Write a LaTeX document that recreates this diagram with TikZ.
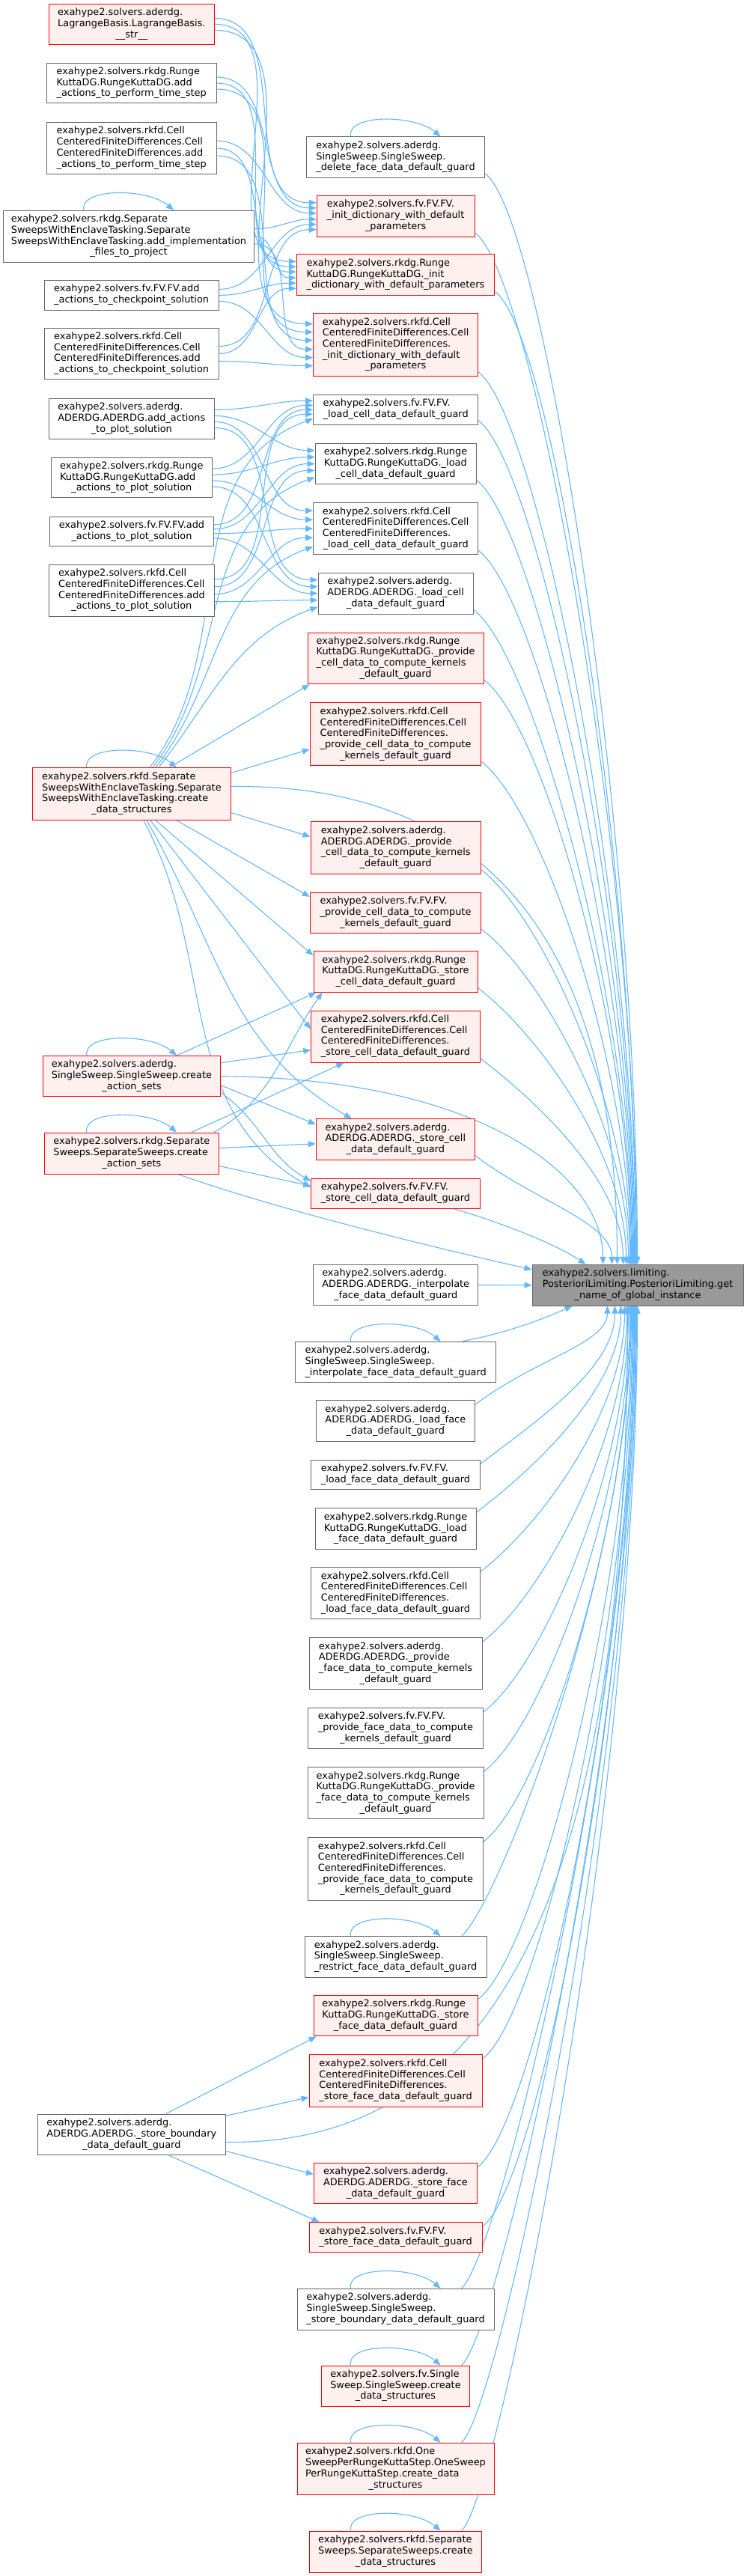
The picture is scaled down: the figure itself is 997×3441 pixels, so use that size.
\documentclass[tikz,border=0pt]{standalone}
\usepackage{fontspec}
\setmainfont{DejaVu Sans}
\usetikzlibrary{arrows.meta,calc}
\definecolor{edgeblue}{HTML}{63B8FF}
\definecolor{rfill}{HTML}{FFF0F0}
\definecolor{gborder}{HTML}{666666}
\definecolor{mfill}{HTML}{999999}
\pgfdeclarelayer{bg}
\pgfsetlayers{bg,main}
\tikzset{
 box/.style={draw, line width=1pt, inner sep=0pt, font=\fontsize{12.9}{14.7}\selectfont},
 gbox/.style={box, draw=gborder, fill=white},
 rbox/.style={box, draw=red, fill=rfill},
 mbox/.style={box, draw=gborder, fill=mfill},
 cg/.style={draw=edgeblue, line width=1.1pt, line join=round, -{Triangle[length=10pt,width=8pt]}},
}
\newcommand\nlabel[2]{\begin{tabular}{@{}l@{}}#1\\\multicolumn{1}{@{}c@{}}{#2}\end{tabular}}
\newcommand\gnode[8]{\node[#2,minimum width={(#5-#3)*1pt},minimum height={(#6-#4)*1pt}] (#1) at ({(#3+#5)/2},{(#4+#6)/2}) {\nlabel{#7}{#8}};}
\newcommand\lmedge[4]{\draw[cg] ([yshift=#2pt]#1.east) to[out=0,in=180] ([yshift=#4pt]#3.west);}
\newcommand\upedge[3]{\draw[cg] ([yshift=6pt]#1.south east) .. controls ($(#1.south east)+(80,55)$) and ($(main.north west)+(#2,-#3)$) .. ([xshift=#2pt]main.north west);}
\newcommand\dnedge[3]{\draw[cg] ([yshift=-6pt]#1.north east) .. controls ($(#1.north east)+(80,-55)$) and ($(main.south west)+(#2,#3)$) .. ([xshift=#2pt]main.south west);}
\newcommand\dnedgeloop[3]{\draw[cg] ([xshift=88pt]#1.north) .. controls ($(#1.north)+(140,-45)$) and ($(main.south west)+(#2,#3)$) .. ([xshift=#2pt]main.south west);}
\newcommand\sloop[1]{\draw[cg] ([xshift=-60pt]#1.north) .. controls ($(#1.north)+(-66,-30)$) and ($(#1.north)+(25,-30)$) .. ([xshift=60pt]#1.north);}
\begin{document}
\begin{tikzpicture}[x=1pt,y=-1pt]
\path[use as bounding box] (0,0) rectangle (997,3441);
% left column
\gnode{L1}{rbox}{65.7}{5.7}{286}{59.1}{exahype2.solvers.aderdg.\\LagrangeBasis.LagrangeBasis.}{\_\_str\_\_}
\gnode{L2}{gbox}{62.3}{84.4}{289}{137.8}{exahype2.solvers.rkdg.Runge\\KuttaDG.RungeKuttaDG.add}{\_actions\_to\_perform\_time\_step}
\gnode{L3}{gbox}{62.3}{163.6}{289}{232.5}{exahype2.solvers.rkfd.Cell\\CenteredFiniteDifferences.Cell\\CenteredFiniteDifferences.add}{\_actions\_to\_perform\_time\_step}
\gnode{L4}{gbox}{4.7}{281.3}{339.3}{350.2}{exahype2.solvers.rkdg.Separate\\SweepsWithEnclaveTasking.Separate\\SweepsWithEnclaveTasking.add\_implementation}{\_files\_to\_project}
\gnode{L5}{gbox}{59}{374.3}{292.3}{414.5}{exahype2.solvers.fv.FV.FV.add}{\_actions\_to\_checkpoint\_solution}
\gnode{L6}{gbox}{59}{438}{292.3}{506.9}{exahype2.solvers.rkfd.Cell\\CenteredFiniteDifferences.Cell\\CenteredFiniteDifferences.add}{\_actions\_to\_checkpoint\_solution}
\gnode{L7}{gbox}{65.7}{532.7}{286}{586.1}{exahype2.solvers.aderdg.\\ADERDG.ADERDG.add\_actions}{\_to\_plot\_solution}
\gnode{L8}{gbox}{68.3}{611.4}{283.3}{664.8}{exahype2.solvers.rkdg.Runge\\KuttaDG.RungeKuttaDG.add}{\_actions\_to\_plot\_solution}
\gnode{L9}{gbox}{66.7}{690}{285.3}{729.6}{exahype2.solvers.fv.FV.FV.add}{\_actions\_to\_plot\_solution}
\gnode{L10}{gbox}{65.7}{754.3}{286}{823.2}{exahype2.solvers.rkfd.Cell\\CenteredFiniteDifferences.Cell\\CenteredFiniteDifferences.add}{\_actions\_to\_plot\_solution}
\gnode{L11}{rbox}{43.7}{1025.9}{308}{1095.2}{exahype2.solvers.rkfd.Separate\\SweepsWithEnclaveTasking.Separate\\SweepsWithEnclaveTasking.create}{\_data\_structures}
\gnode{L12}{rbox}{57.3}{1410.5}{294.7}{1464.9}{exahype2.solvers.aderdg.\\SingleSweep.SingleSweep.create}{\_action\_sets}
\gnode{L13}{rbox}{59.7}{1513}{292}{1568}{exahype2.solvers.rkdg.Separate\\Sweeps.SeparateSweeps.create}{\_action\_sets}
\gnode{L14}{gbox}{50.3}{2824}{301.3}{2878.7}{exahype2.solvers.aderdg.\\ADERDG.ADERDG.\_store\_boundary}{\_data\_default\_guard}
% middle column
\gnode{M1}{gbox}{409.3}{182.9}{647.7}{237.3}{exahype2.solvers.aderdg.\\SingleSweep.SingleSweep.}{\_delete\_face\_data\_default\_guard}
\gnode{M2}{rbox}{423.3}{261.4}{634}{316.1}{exahype2.solvers.fv.FV.FV.\\\_init\_dictionary\_with\_default}{\_parameters}
\gnode{M3}{rbox}{396.3}{339.8}{660.7}{394.6}{exahype2.solvers.rkdg.Runge\\KuttaDG.RungeKuttaDG.\_init}{\_dictionary\_with\_default\_parameters}
\gnode{M4}{rbox}{418.7}{418.7}{638.7}{502.5}{exahype2.solvers.rkfd.Cell\\CenteredFiniteDifferences.Cell\\CenteredFiniteDifferences.\\\_init\_dictionary\_with\_default}{\_parameters}
\gnode{M5}{gbox}{418.7}{527.4}{638.7}{567.2}{exahype2.solvers.fv.FV.FV.}{\_load\_cell\_data\_default\_guard}
\gnode{M6}{gbox}{421}{592.4}{636}{646.7}{exahype2.solvers.rkdg.Runge\\KuttaDG.RungeKuttaDG.\_load}{\_cell\_data\_default\_guard}
\gnode{M7}{gbox}{418.7}{671.6}{638.7}{740.8}{exahype2.solvers.rkfd.Cell\\CenteredFiniteDifferences.Cell\\CenteredFiniteDifferences.}{\_load\_cell\_data\_default\_guard}
\gnode{M8}{gbox}{425}{765.3}{632.3}{820}{exahype2.solvers.aderdg.\\ADERDG.ADERDG.\_load\_cell}{\_data\_default\_guard}
\gnode{M9}{rbox}{411}{845}{646.3}{913.8}{exahype2.solvers.rkdg.Runge\\KuttaDG.RungeKuttaDG.\_provide\\\_cell\_data\_to\_compute\_kernels}{\_default\_guard}
\gnode{M10}{rbox}{414.3}{938.7}{642.7}{1022.9}{exahype2.solvers.rkfd.Cell\\CenteredFiniteDifferences.Cell\\CenteredFiniteDifferences.\\\_provide\_cell\_data\_to\_compute}{\_kernels\_default\_guard}
\gnode{M11}{rbox}{415}{1097.9}{642.3}{1167.2}{exahype2.solvers.aderdg.\\ADERDG.ADERDG.\_provide\\\_cell\_data\_to\_compute\_kernels}{\_default\_guard}
\gnode{M12}{rbox}{414.3}{1192.4}{642.7}{1246.7}{exahype2.solvers.fv.FV.FV.\\\_provide\_cell\_data\_to\_compute}{\_kernels\_default\_guard}
\gnode{M13}{rbox}{419}{1270.8}{638}{1325.1}{exahype2.solvers.rkdg.Runge\\KuttaDG.RungeKuttaDG.\_store}{\_cell\_data\_default\_guard}
\gnode{M14}{rbox}{415.7}{1350}{641.3}{1419.3}{exahype2.solvers.rkfd.Cell\\CenteredFiniteDifferences.Cell\\CenteredFiniteDifferences.}{\_store\_cell\_data\_default\_guard}
\gnode{M15}{rbox}{422.3}{1494.7}{634.3}{1549}{exahype2.solvers.aderdg.\\ADERDG.ADERDG.\_store\_cell}{\_data\_default\_guard}
\gnode{M16}{rbox}{415.7}{1574.3}{641.3}{1614.1}{exahype2.solvers.fv.FV.FV.}{\_store\_cell\_data\_default\_guard}
\gnode{M17}{gbox}{418.7}{1689.1}{638.7}{1743.8}{exahype2.solvers.aderdg.\\ADERDG.ADERDG.\_interpolate}{\_face\_data\_default\_guard}
\gnode{M18}{gbox}{394.7}{1792.4}{662.7}{1846.7}{exahype2.solvers.aderdg.\\SingleSweep.SingleSweep.}{\_interpolate\_face\_data\_default\_guard}
\gnode{M19}{gbox}{422.3}{1870.8}{634.3}{1925.1}{exahype2.solvers.aderdg.\\ADERDG.ADERDG.\_load\_face}{\_data\_default\_guard}
\gnode{M20}{gbox}{415.7}{1950}{641.3}{1989.8}{exahype2.solvers.fv.FV.FV.}{\_load\_face\_data\_default\_guard}
\gnode{M21}{gbox}{421}{2014.7}{636}{2069.4}{exahype2.solvers.rkdg.Runge\\KuttaDG.RungeKuttaDG.\_load}{\_face\_data\_default\_guard}
\gnode{M22}{gbox}{415.7}{2093.9}{641.3}{2162.8}{exahype2.solvers.rkfd.Cell\\CenteredFiniteDifferences.Cell\\CenteredFiniteDifferences.}{\_load\_face\_data\_default\_guard}
\gnode{M23}{gbox}{413}{2187.7}{644}{2256.6}{exahype2.solvers.aderdg.\\ADERDG.ADERDG.\_provide\\\_face\_data\_to\_compute\_kernels}{\_default\_guard}
\gnode{M24}{gbox}{411.7}{2281.4}{645.3}{2335.8}{exahype2.solvers.fv.FV.FV.\\\_provide\_face\_data\_to\_compute}{\_kernels\_default\_guard}
\gnode{M25}{gbox}{411}{2360.6}{646.3}{2429.9}{exahype2.solvers.rkdg.Runge\\KuttaDG.RungeKuttaDG.\_provide\\\_face\_data\_to\_compute\_kernels}{\_default\_guard}
\gnode{M26}{gbox}{411.7}{2454.7}{645.3}{2538.5}{exahype2.solvers.rkfd.Cell\\CenteredFiniteDifferences.Cell\\CenteredFiniteDifferences.\\\_provide\_face\_data\_to\_compute}{\_kernels\_default\_guard}
\gnode{M27}{gbox}{407}{2586.8}{650}{2641.1}{exahype2.solvers.aderdg.\\SingleSweep.SingleSweep.}{\_restrict\_face\_data\_default\_guard}
\gnode{M28}{rbox}{419}{2665.2}{638}{2719.9}{exahype2.solvers.rkdg.Runge\\KuttaDG.RungeKuttaDG.\_store}{\_face\_data\_default\_guard}
\gnode{M29}{rbox}{413}{2744.8}{644}{2814.1}{exahype2.solvers.rkfd.Cell\\CenteredFiniteDifferences.Cell\\CenteredFiniteDifferences.}{\_store\_face\_data\_default\_guard}
\gnode{M30}{rbox}{419.3}{2889.1}{637.7}{2943.8}{exahype2.solvers.aderdg.\\ADERDG.ADERDG.\_store\_face}{\_data\_default\_guard}
\gnode{M31}{rbox}{413}{2968.7}{644}{3008.5}{exahype2.solvers.fv.FV.FV.}{\_store\_face\_data\_default\_guard}
\gnode{M32}{gbox}{397}{3057.3}{660}{3112}{exahype2.solvers.aderdg.\\SingleSweep.SingleSweep.}{\_store\_boundary\_data\_default\_guard}
\gnode{M33}{rbox}{429.7}{3160}{627.3}{3214.3}{exahype2.solvers.fv.Single\\Sweep.SingleSweep.create}{\_data\_structures}
\gnode{M34}{rbox}{397}{3263.3}{660}{3332.7}{exahype2.solvers.rkfd.One\\SweepPerRungeKuttaStep.OneSweep\\PerRungeKuttaStep.create\_data}{\_structures}
\gnode{M35}{rbox}{413.7}{3381}{643.3}{3436}{exahype2.solvers.rkfd.Separate\\Sweeps.SeparateSweeps.create}{\_data\_structures}
% main
\gnode{main}{mbox}{711}{1689.3}{993}{1744}{exahype2.solvers.limiting.\\PosterioriLimiting.PosterioriLimiting.get}{\_name\_of\_global\_instance}
\begin{pgfonlayer}{bg}
\fill[white] (0,0) rectangle (997,3441);
% self loops
\foreach \n in {L4,L11,L12,L13,M1,M18,M27,M32,M33,M34,M35} {\sloop{\n}}
% group A
\lmedge{L1}{8}{M2}{18} \lmedge{L1}{0}{M3}{18} \lmedge{L1}{-8}{M4}{28}
\lmedge{L2}{8}{M2}{11} \lmedge{L2}{0}{M3}{11} \lmedge{L2}{-8}{M4}{17}
\lmedge{L3}{10}{M2}{4} \lmedge{L3}{0}{M3}{4} \lmedge{L3}{-10}{M4}{6}
\lmedge{L4}{10}{M2}{-4} \lmedge{L4}{0}{M3}{-4} \lmedge{L4}{-10}{M4}{-6}
\lmedge{L5}{8}{M2}{-11} \lmedge{L5}{0}{M3}{-11} \lmedge{L5}{-8}{M4}{-17}
\lmedge{L6}{10}{M2}{-18} \lmedge{L6}{0}{M3}{-18} \lmedge{L6}{-10}{M4}{-28}
% group B
\lmedge{L7}{12}{M5}{12} \lmedge{L7}{4}{M6}{18} \lmedge{L7}{-4}{M7}{24} \lmedge{L7}{-12}{M8}{18}
\lmedge{L8}{12}{M5}{6} \lmedge{L8}{4}{M6}{9} \lmedge{L8}{-4}{M7}{12} \lmedge{L8}{-12}{M8}{9}
\lmedge{L9}{9}{M5}{0} \lmedge{L9}{3}{M6}{0} \lmedge{L9}{-3}{M7}{0} \lmedge{L9}{-9}{M8}{0}
\lmedge{L10}{15}{M5}{-6} \lmedge{L10}{5}{M6}{-9} \lmedge{L10}{-5}{M7}{-12} \lmedge{L10}{-15}{M8}{-9}
% L11
\draw[cg] ([xshift=24pt]L11.north) to[out=52,in=200] ([yshift=-12pt]M5.west);
\draw[cg] ([xshift=28pt]L11.north) to[out=52,in=200] ([yshift=-18pt]M6.west);
\draw[cg] ([xshift=32pt]L11.north) to[out=52,in=200] ([yshift=-24pt]M7.west);
\draw[cg] ([xshift=36pt]L11.north) to[out=52,in=200] ([yshift=-18pt]M8.west);
\draw[cg] ([xshift=50pt]L11.north) -- ([xshift=3pt]M9.south west);
\draw[cg] ([yshift=28pt]L11.east) -- ([yshift=-20pt]M10.west);
\draw[cg] ([yshift=10pt]L11.east) .. controls (680,1046) and ($(main.north west)+(114,-390)$) .. ([xshift=114pt]main.north west);
\draw[cg] ([yshift=-25pt]L11.east) -- ([yshift=15pt]M11.west);
\draw[cg] ([xshift=60pt]L11.south) -- ([yshift=-6pt]M12.north west);
\draw[cg] ([xshift=32pt]L11.south) -- ([yshift=-6pt]M13.north west);
\draw[cg] ([xshift=25pt]L11.south) -- ([yshift=10pt]M14.west);
\draw[cg] ([xshift=20pt]L11.south) to[out=-60,in=150] ([xshift=48pt]M15.north west);
\draw[cg] ([xshift=16pt]L11.south) to[out=-62,in=150] ([yshift=8pt]M16.west);
% L12
\draw[cg] ([xshift=60pt]L12.north) -- ([xshift=4pt]M13.south west);
\draw[cg] ([yshift=18pt]L12.east) -- ([yshift=-18pt]M14.west);
\draw[cg] (L12.east) .. controls (640,1440) and ($(main.north west)+(95,-120)$) .. ([xshift=95pt]main.north west);
\draw[cg] ([yshift=-12pt]L12.east) -- ([yshift=20pt]M15.west);
\draw[cg] ([yshift=-22pt]L12.east) to[out=-35,in=150] ([yshift=-4pt]M16.north west);
% L13
\draw[cg] ([xshift=110pt]L13.north) to[out=30,in=235] ([xshift=12pt]M13.south west);
\draw[cg] ([xshift=80pt]L13.north) -- ([xshift=44pt]M14.south west);
\draw[cg] ([yshift=7pt]L13.east) -- ([yshift=-6pt]M15.west);
\draw[cg] ([yshift=-17pt]L13.east) -- ([yshift=10pt]M16.west);
\draw[cg] ([xshift=62pt]L13.south) .. controls (360,1612) and (560,1662) .. ([yshift=-7pt]main.north west);
% L14
\draw[cg] ([xshift=46pt]L14.north) -- ([xshift=4pt]M28.south west);
\draw[cg] ([yshift=25pt]L14.east) -- ([yshift=-22pt]M29.west);
\draw[cg] ([yshift=-10pt]L14.east) .. controls (700,2868) and ($(main.south west)+(128,700)$) .. ([xshift=128pt]main.south west);
\draw[cg] ([yshift=-22pt]L14.east) -- ([yshift=12pt]M30.west);
\draw[cg] ([xshift=50pt]L14.south) -- ([xshift=14pt]M31.north west);
% upper middle to main
\upedge{M1}{141}{580} \upedge{M2}{140}{550} \upedge{M3}{139}{520} \upedge{M4}{138}{475}
\upedge{M5}{137}{450} \upedge{M6}{136}{417} \upedge{M7}{135}{380} \upedge{M8}{134}{348}
\upedge{M9}{133}{310} \upedge{M10}{132}{266} \upedge{M11}{131}{209} \upedge{M12}{129}{177}
\upedge{M13}{126}{146} \upedge{M14}{122}{108} \upedge{M15}{107}{56}
\draw[cg] ([xshift=-36pt]M16.south east) .. controls (660,1630) and (740,1660) .. ([xshift=72pt]main.north west);
\draw[cg] (M17.east) -- (main.west);
\draw[cg] ([xshift=88pt]M18.north) .. controls (680,1780) and (730,1760) .. ([xshift=54pt]main.south west);
% lower middle to main
\dnedge{M19}{101}{50} \dnedge{M20}{111}{82} \dnedge{M21}{119}{108} \dnedge{M22}{124}{140}
\dnedge{M23}{127}{178} \dnedge{M24}{129}{215} \dnedge{M25}{131}{247} \dnedge{M26}{132}{284}
\dnedgeloop{M27}{133}{337} \dnedge{M28}{134}{368} \dnedge{M29}{135}{400} \dnedge{M30}{136}{458}
\dnedge{M31}{137}{490} \dnedgeloop{M32}{138}{525} \dnedgeloop{M33}{139}{566} \dnedgeloop{M34}{140}{608}
\dnedgeloop{M35}{141}{655}
\end{pgfonlayer}
\end{tikzpicture}
\end{document}
